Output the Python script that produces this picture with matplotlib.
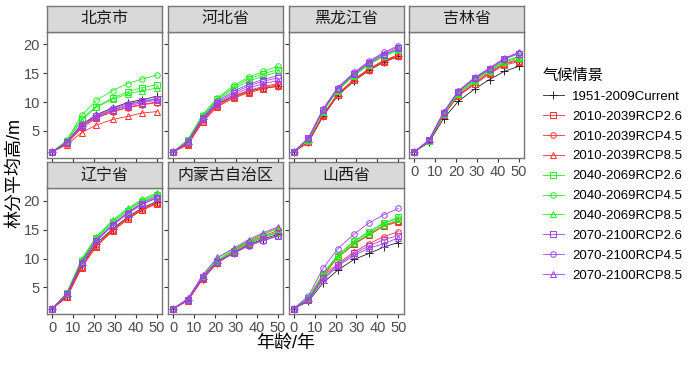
import numpy as np
import matplotlib.pyplot as plt
from matplotlib.lines import Line2D

plt.rcParams['font.family'] = ['Liberation Sans', 'Noto Sans CJK SC']

ages = [0, 7, 14, 21, 29, 36, 43, 50]
scenarios = ['1951-2009Current',
             '2010-2039RCP2.6', '2010-2039RCP4.5', '2010-2039RCP8.5',
             '2040-2069RCP2.6', '2040-2069RCP4.5', '2040-2069RCP8.5',
             '2070-2100RCP2.6', '2070-2100RCP4.5', '2070-2100RCP8.5']
provinces = ['北京市', '河北省', '黑龙江省', '吉林省', '辽宁省', '内蒙古自治区', '山西省']

# mean stand height (m), one row per scenario, in the order of `scenarios`
beijing = [[1.35, 3.0, 5.9, 7.8, 9.0, 9.9, 10.4, 11.0],
           [1.35, 2.9, 5.6, 7.3, 8.4, 9.1, 9.6, 10.0],
           [1.35, 2.8, 5.5, 7.2, 8.3, 9.0, 9.5, 9.9],
           [1.35, 2.6, 4.7, 6.0, 7.0, 7.5, 8.1, 8.35],
           [1.35, 3.3, 7.1, 9.2, 10.7, 11.8, 12.5, 13.0],
           [1.35, 3.4, 7.7, 10.3, 12.0, 13.2, 14.0, 14.65],
           [1.35, 3.2, 6.8, 9.1, 10.5, 11.4, 12.0, 12.4],
           [1.35, 3.0, 5.9, 7.5, 8.7, 9.5, 10.1, 10.5],
           [1.35, 3.1, 6.2, 7.7, 8.9, 9.7, 10.2, 10.6],
           [1.35, 3.0, 6.0, 7.4, 8.6, 9.3, 9.9, 10.3]]
hebei = [[1.35, 2.8, 7.0, 9.7, 11.0, 11.9, 12.4, 12.7],
         [1.35, 2.7, 6.6, 9.3, 10.8, 11.8, 12.5, 13.0],
         [1.35, 2.7, 6.8, 9.5, 11.0, 12.0, 12.7, 13.2],
         [1.35, 2.6, 6.5, 9.2, 10.7, 11.6, 12.3, 12.8],
         [1.35, 3.4, 7.6, 10.5, 12.6, 14.0, 14.9, 15.6],
         [1.35, 3.5, 7.8, 10.7, 12.9, 14.3, 15.3, 16.2],
         [1.35, 3.3, 7.5, 10.3, 12.3, 13.6, 14.5, 15.2],
         [1.35, 3.1, 7.2, 9.9, 11.6, 12.8, 13.6, 14.2],
         [1.35, 3.2, 7.3, 10.1, 11.9, 13.1, 13.9, 14.6],
         [1.35, 3.0, 7.0, 9.7, 11.3, 12.4, 13.2, 13.7]]
heilongjiang = [[1.35, 3.0, 7.5, 11.1, 13.7, 15.5, 16.9, 17.9],
                [1.35, 3.1, 7.6, 11.2, 13.8, 15.6, 17.0, 18.0],
                [1.35, 3.2, 7.8, 11.4, 14.0, 15.8, 17.2, 18.2],
                [1.35, 3.1, 7.7, 11.3, 13.9, 15.7, 17.1, 18.1],
                [1.35, 3.5, 8.3, 12.0, 14.6, 16.5, 17.9, 19.0],
                [1.35, 3.6, 8.5, 12.2, 14.8, 16.7, 18.1, 19.2],
                [1.35, 3.5, 8.4, 12.1, 14.7, 16.6, 18.0, 19.1],
                [1.35, 3.7, 8.6, 12.3, 14.9, 16.8, 18.2, 19.3],
                [1.35, 3.8, 8.8, 12.5, 15.2, 17.1, 18.6, 19.8],
                [1.35, 3.7, 8.7, 12.4, 15.0, 16.9, 18.4, 19.6]]
jilin = [[1.35, 3.0, 7.1, 10.1, 12.3, 13.9, 15.3, 16.2],
         [1.35, 3.2, 7.7, 11.1, 13.2, 15.0, 16.6, 17.2],
         [1.35, 3.2, 7.8, 11.2, 13.4, 15.2, 16.7, 17.4],
         [1.35, 3.2, 7.7, 11.0, 13.1, 14.9, 16.4, 17.0],
         [1.35, 3.3, 7.9, 11.5, 13.8, 15.5, 17.0, 17.8],
         [1.35, 3.3, 8.0, 11.6, 13.9, 15.6, 17.1, 17.9],
         [1.35, 3.3, 7.9, 11.4, 13.7, 15.4, 16.9, 17.7],
         [1.35, 3.4, 8.1, 11.8, 14.1, 15.7, 17.4, 18.4],
         [1.35, 3.4, 8.2, 11.9, 14.2, 15.8, 17.5, 18.5],
         [1.35, 3.4, 8.2, 11.9, 14.3, 15.9, 17.6, 18.6]]
liaoning = [[1.35, 3.6, 8.9, 12.6, 15.2, 17.2, 18.8, 19.9],
            [1.35, 3.3, 8.4, 12.1, 14.8, 16.8, 18.4, 19.5],
            [1.35, 3.4, 8.6, 12.3, 15.0, 17.0, 18.6, 19.7],
            [1.35, 3.3, 8.5, 12.2, 14.9, 16.9, 18.5, 19.6],
            [1.35, 4.0, 9.6, 13.5, 16.3, 18.3, 19.9, 21.0],
            [1.35, 4.0, 9.7, 13.6, 16.5, 18.5, 20.1, 21.2],
            [1.35, 4.1, 9.9, 13.8, 16.7, 18.7, 20.3, 21.4],
            [1.35, 3.8, 9.2, 13.0, 15.8, 17.8, 19.4, 20.5],
            [1.35, 3.8, 9.3, 13.1, 15.9, 17.9, 19.5, 20.6],
            [1.35, 3.9, 9.4, 13.2, 16.0, 18.0, 19.7, 20.8]]
neimenggu = [[1.35, 2.8, 6.5, 9.3, 11.0, 12.4, 13.4, 14.2],
             [1.35, 2.7, 6.4, 9.2, 11.1, 12.6, 13.7, 14.6],
             [1.35, 2.7, 6.5, 9.4, 11.3, 12.8, 13.9, 14.9],
             [1.35, 2.8, 6.6, 9.6, 11.5, 13.0, 14.2, 15.3],
             [1.35, 2.9, 6.8, 9.6, 11.3, 12.7, 13.7, 14.5],
             [1.35, 2.9, 6.9, 9.7, 11.4, 12.8, 13.8, 14.6],
             [1.35, 3.0, 7.0, 10.0, 11.7, 13.1, 14.3, 15.2],
             [1.35, 2.9, 6.8, 9.5, 11.0, 12.3, 13.2, 14.0],
             [1.35, 2.8, 6.7, 9.4, 10.9, 12.2, 13.1, 13.9],
             [1.35, 3.1, 7.1, 10.2, 11.8, 13.3, 14.5, 15.5]]
shanxi = [[1.35, 2.6, 5.8, 8.0, 9.9, 10.9, 12.0, 12.8],
          [1.35, 3.1, 7.1, 10.3, 12.6, 14.2, 15.8, 16.5],
          [1.35, 2.9, 7.0, 9.1, 11.2, 12.6, 13.8, 14.7],
          [1.35, 3.0, 6.9, 10.2, 12.5, 14.1, 15.6, 16.4],
          [1.35, 3.2, 7.3, 10.5, 13.0, 14.6, 16.1, 17.2],
          [1.35, 3.2, 7.4, 10.6, 13.1, 14.7, 16.2, 17.0],
          [1.35, 3.1, 7.2, 10.3, 12.7, 14.3, 15.8, 16.8],
          [1.35, 2.9, 6.6, 8.9, 10.9, 12.2, 13.3, 14.0],
          [1.35, 3.5, 8.3, 11.7, 14.3, 16.2, 17.6, 18.7],
          [1.35, 2.8, 6.3, 8.7, 10.6, 11.8, 12.6, 13.6]]
heights = [beijing, hebei, heilongjiang, jilin, liaoning, neimenggu, shanxi]

red, green, purple = '#FF3030', '#22EE22', '#A040F0'
colors = ['#222222', red, red, red, green, green, green, purple, purple, purple]
markers = ['+', 's', 'o', '^', 's', 'o', '^', 's', 'o', '^']

W, H = 700, 368
fig = plt.figure(figsize=(7, 3.68), dpi=100)


def box(x, y, w, h):
    return [x / W, 1 - (y + h) / H, w / W, h / H]


lefts = [47, 168, 288.5, 409]
pw = 115
tops = [31.7, 188.3]
ph = 126
sh = 26
edge = '#777777'
tick_col = '#4D4D4D'

for i, prov in enumerate(provinces):
    r, c = divmod(i, 4)
    ax = fig.add_axes(box(lefts[c], tops[r], pw, ph))
    for k in range(len(scenarios)):
        ax.plot(ages, heights[i][k], color=colors[k], marker=markers[k],
                markersize=4 if markers[k] != '+' else 6, markeredgewidth=0.7,
                fillstyle='none', linewidth=0.6)
    ax.set_xlim(-2.5, 52.5)
    ax.set_ylim(0.35, 22.2)
    ax.set_xticks([0, 10, 20, 30, 40, 50])
    ax.set_yticks([5, 10, 15, 20])
    for s in ax.spines.values():
        s.set_color(edge)
        s.set_linewidth(1.0)
    ax.tick_params(length=3, width=0.8, color='#333333', labelcolor=tick_col,
                   labelsize=10.5, pad=2)
    if not (r == 1 or c == 3):
        ax.tick_params(axis='x', labelbottom=False)
    if c != 0:
        ax.tick_params(axis='y', labelleft=False)

    sax = fig.add_axes(box(lefts[c], tops[r] - sh, pw, sh))
    sax.set_facecolor('#D9D9D9')
    sax.set_xticks([])
    sax.set_yticks([])
    for s in sax.spines.values():
        s.set_color(edge)
        s.set_linewidth(1.0)
    sax.text(0.5, 0.5, prov, ha='center', va='center', fontsize=11.5,
             color='#1A1A1A', transform=sax.transAxes)

fig.text(286 / W, 1 - 343 / H, '年龄/年', ha='center', va='center', fontsize=13)
fig.text(15 / W, 1 - 173 / H, '林分平均高/m', ha='center', va='center',
         rotation=90, fontsize=13)

handles = [Line2D([], [], color=colors[k], marker=markers[k],
                  markersize=4 if markers[k] != '+' else 6, markeredgewidth=0.7,
                  fillstyle='none', linewidth=0.6) for k in range(len(scenarios))]
fig.legend(handles, scenarios, title='气候情景', loc='upper left',
           bbox_to_anchor=(531 / W, 1 - 57 / H), frameon=False, fontsize=9.5,
           title_fontsize=11, handlelength=1.6, handletextpad=0.6,
           labelspacing=0.58, alignment='left')

fig.savefig('out.png', dpi=100)
